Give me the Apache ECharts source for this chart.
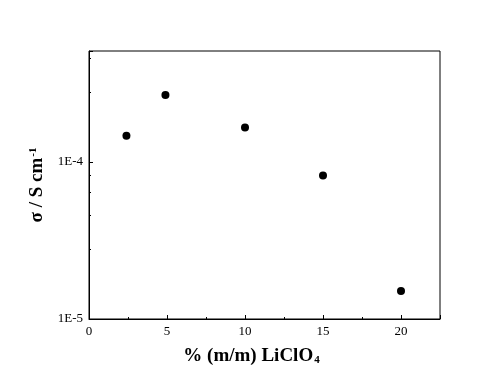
<!DOCTYPE html>
<html>
<head>
<meta charset="utf-8">
<script src="https://cdn.jsdelivr.net/npm/echarts@6/dist/echarts.min.js"></script>
<style>
  html, body { margin: 0; padding: 0; background: #fff; }
</style>
</head>
<body>
<div id="chart" style="width:491px;height:391px"></div>
<script>
// salt content, % (m/m) LiClO4
const saltPct = [2.4, 4.9, 10, 15, 20]
// conductivity, S cm-1
const sigma = [1.47e-4, 2.67e-4, 1.66e-4, 8.2e-5, 1.51e-5]

const xTicks = [0, 5, 10, 15, 20]

const font = 'Liberation Serif'

let option = {
  backgroundColor: '#fff',
  animation: false,
  grid: {
    left: 89,
    right: 51,
    top: 51,
    bottom: 72,
    show: true,
    borderColor: '#000',
    borderWidth: 1
  },
  xAxis: {
    type: 'value',
    min: 0,
    max: 22.5,
    interval: 5,
    name: '{b|% (m/m) LiClO}{sub|4}',
    nameLocation: 'middle',
    nameGap: 27,
    nameTextStyle: {
      padding: [0, 26, 0, 0],
      rich: {
        b: { fontFamily: font, fontWeight: 'bold', fontSize: 19, color: '#000' },
        sub: { fontFamily: font, fontWeight: 'bold', fontSize: 11, color: '#000', verticalAlign: 'bottom', padding: [9, 0, 0, 1] }
      }
    },
    axisLine: { show: true, onZero: false, lineStyle: { color: '#000', width: 1 } },
    axisTick: { show: true, inside: true, length: 4, lineStyle: { color: '#000' } },
    minorTick: { show: true, splitNumber: 2, length: 2, lineStyle: { color: '#000' } },
    splitLine: { show: false },
    axisLabel: {
      color: '#000',
      fontFamily: font,
      fontSize: 13,
      margin: 6,
      showMaxLabel: false,
      formatter: function (v) { return xTicks.indexOf(v) >= 0 ? String(v) : '' }
    }
  },
  yAxis: {
    type: 'log',
    logBase: 10,
    min: 1e-5,
    max: 5.1e-4,
    name: '{b|σ / S cm}{sup|-1}',
    nameLocation: 'middle',
    nameGap: 38,
    nameRotate: 90,
    nameTextStyle: {
      rich: {
        b: { fontFamily: font, fontWeight: 'bold', fontSize: 19, color: '#000' },
        sup: { fontFamily: font, fontWeight: 'bold', fontSize: 11, color: '#000', verticalAlign: 'top', padding: [0, 0, 9, 1] }
      }
    },
    axisLine: { show: true, lineStyle: { color: '#000', width: 1 } },
    axisTick: { show: true, inside: true, length: 4, lineStyle: { color: '#000' } },
    minorTick: { show: true, splitNumber: 5, length: 2, lineStyle: { color: '#000' } },
    splitLine: { show: false },
    axisLabel: {
      color: '#000',
      fontFamily: font,
      fontSize: 13,
      margin: 6,
      showMaxLabel: false,
      formatter: function (v) {
        const e = Math.log10(v)
        return Math.abs(e - Math.round(e)) < 1e-6 ? '1E' + Math.round(e) : ''
      }
    }
  },
  series: [
    {
      type: 'scatter',
      symbol: 'circle',
      symbolSize: 8,
      itemStyle: { color: '#000', opacity: 1 },
      data: saltPct.map((x, i) => [x, sigma[i]])
    }
  ]
}

const chart = echarts.init(document.getElementById('chart'))
chart.setOption(option)
</script>
</body>
</html>
